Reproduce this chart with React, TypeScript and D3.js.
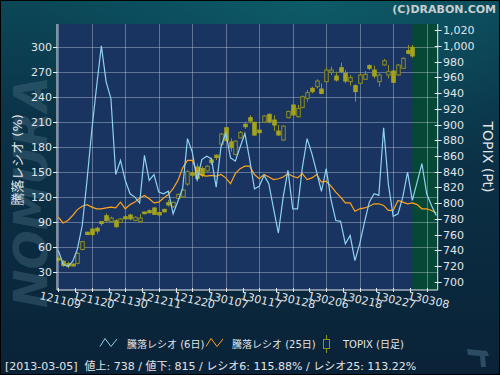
import React from "react";
import * as d3 from "d3";

const dateLabels = ["121109","121120","121130","121211","121220","130107","130117","130128","130206","130218","130227","130308"];

const ratio6 = [56,40,37,43,58,86,140,200,252,301,258,238,147,164,140,124,120,113,170,140,147,126,124,127,100,115,131,190,174,140,165,169,166,132,180,197,167,163,180,196,165,130,133,146,136,106,77,120,152,106,106,155,190,172,150,127,154,117,92,91,64,74,44,64,90,114,124,122,203,135,97,100,120,150,116,138,160,124,110,98];

const ratio25 = [96,89,92,98,105,109,111,108,106,106,107,108,107,114,106,111,114,119,122,118,113,114,119,123,130,140,155,164,164,150,146,145,146,145,147,143,136,148,154,157,157,147,142,147,144,141,142,144,148,145,143,148,141,143,147,138,139,133,126,120,113,113,103,106,107,109,112,112,110,104,104,116,114,112,113,111,106,106,104,101];

const topixOpen = [730,726,723,722.5,723.3,741,763,767,768,776.5,784,776.4,777.6,775.5,782.7,784.8,778,776.4,788.7,790.4,793.8,788,792,800.6,795.5,806,808,824.3,838.5,846,844,841,855,861,875,896,878,862,883,900.3,908.8,902.8,893,903,913,905.8,891.8,880.3,908.8,924.9,910,921.9,933.4,946.1,948.2,945.3,954.6,966.5,961.8,972.4,965.2,954.6,949.5,952.5,957.6,975,969.4,954.6,975.8,963.1,968.2,963.1,971.6,994.1,998.3];
const topixHigh = [732,727.5,725,723,738,752,763.5,769,770,777,787,782.7,779.7,781,785.7,786.5,783,786,789,792,795,789,793,804,802,812,818,842,841,850.6,847,848,858,862,889,897,882.5,880,891.8,903.7,912,903.7,899.4,912,914.3,912,899.4,899,917.6,926,924.9,937,944,948.2,957.6,952.5,972.8,973.7,967.3,978.8,969.4,963.1,951.2,965.2,968.2,976.7,975,965.2,983.4,975.8,969,976.7,985.6,1001.3,1001.3];
const topixLow = [725,719,717,719.5,722,740,759.5,758,761,771,776.5,775.5,769,775,777.2,778,777,775,786,787,785,782,788,795.5,794,805,807,822,833,827.3,833,840,848.5,855,874,878,865.5,861,882.5,894.3,901.5,885.4,877.4,902,901.5,891.8,885.8,879,908,911,909,920.6,929.1,939.7,946,938.5,953.7,963.1,954.6,965.2,952.5,949.5,929.1,951.6,956.7,969.4,958.8,948.2,975,958.8,953,962,970.7,989.4,985.1];
const topixClose = [727.5,720.5,720,720,736,751,760,760,764.5,774,777.6,781,770,779.8,780,780,782,781,786.5,787.8,785.7,785,789,797.6,801,811.2,816.7,840,835.5,831.5,836,847,851.5,858,888,879.5,870.6,879,890,897.3,904.5,886.7,889.7,911,903.7,899.4,886.7,898.1,916.8,912.2,920.6,935.5,940.6,941.9,955.4,939.7,969.4,969.4,956.7,967.3,955.4,959.7,941.9,963.1,963.9,971.6,961.8,963.1,981.3,967.3,953.7,975.8,984.3,990.7,987.3];

const leftTicks = [30,60,90,120,150,180,210,240,270,300];
const rightTicks = [700,720,740,760,780,800,820,840,860,880,900,920,940,960,980,1000,1020];

const legendLabels = ["騰落レシオ (6日)", "騰落レシオ (25日)", "TOPIX (日足)"];
const statusText = "[2013-03-05]  値上: 738 / 値下: 815 / レシオ6: 115.88% / レシオ25: 113.22%";
const copyright = "(C)DRABON.COM";
const leftTitle = "騰落レシオ (%)";
const rightTitle = "TOPIX (Pt)";
const lastIndex = 74;

const FONT = "'DejaVu Sans', 'Noto Sans CJK JP', sans-serif";
const PL = 57, PR = 437.7, PT = 24, PB = 290;

export default function App() {
  const x = d3.scaleLinear().domain([0, 77]).range([58.3, 426.7]);
  const yL = d3.scaleLinear().domain([30, 300]).range([272.3, 46.7]);
  const yR = d3.scaleLinear().domain([700, 1000]).range([281.7, 46]);
  const fmt = d3.format(",");

  const line6 = d3.line<number>().x((_, i) => x(i)).y((d) => yL(d))(ratio6) || "";
  const line25 = d3.line<number>().x((_, i) => x(i)).y((d) => yL(d))(ratio25) || "";

  const olive = "#a3a31f";
  const oliveStroke = "#8f8f1e";
  const plotBg = "#1a3461";
  const gridCol = "rgba(210,220,235,0.38)";
  const txt = "#e2e4e8";

  const majorIdx = dateLabels.map((_, k) => k * 7);
  const minorIdx = d3.range(0, 78, 3.5);

  return (
    <svg width={500} height={375} style={{ position: "absolute", left: 0, top: 0, display: "block" }} fontFamily={FONT}>
      <defs>
        <linearGradient id="bg" x1="0" y1="0" x2="0" y2="1">
          <stop offset="0" stopColor="#0b4858" />
          <stop offset="0.3" stopColor="#0b3449" />
          <stop offset="1" stopColor="#0a2237" />
        </linearGradient>
        <radialGradient id="glow" cx="0.62" cy="0" r="0.55">
          <stop offset="0" stopColor="#0f6a75" stopOpacity="0.55" />
          <stop offset="1" stopColor="#0f6a75" stopOpacity="0" />
        </radialGradient>
        <clipPath id="plotClip">
          <rect x={PL} y={PT} width={PR - PL} height={PB - PT} />
        </clipPath>
      </defs>
      <rect x={0} y={0} width={500} height={375} fill="url(#bg)" />
      <rect x={0} y={0} width={500} height={375} fill="url(#glow)" />
      <rect x={0.5} y={0.5} width={499} height={374} fill="none" stroke="#000" />

      {/* watermark */}
      <text transform="translate(47,192) rotate(-90)" textAnchor="middle" fontSize={46} fontWeight="bold" fontStyle="italic" fill="#4a6f84" opacity={0.4}>NOMURA</text>

      {/* plot background */}
      <rect x={PL} y={PT} width={PR - PL} height={PB - PT} fill={plotBg} />
      <rect x={x(lastIndex)} y={PT} width={PR - x(lastIndex)} height={PB - PT} fill="#064836" />

      {/* grid */}
      {leftTicks.map((t) => (
        <line key={"h" + t} x1={PL} x2={PR} y1={Math.round(yL(t)) + 0.5} y2={Math.round(yL(t)) + 0.5} stroke={gridCol} />
      ))}
      {majorIdx.map((i) => (
        <line key={"v" + i} x1={Math.round(x(i)) + 0.5} x2={Math.round(x(i)) + 0.5} y1={PT} y2={PB} stroke={gridCol} />
      ))}

      <g clipPath="url(#plotClip)">
        {/* candles */}
        {topixOpen.map((o, i) => {
          const c = topixClose[i];
          const h = topixHigh[i];
          const l = topixLow[i];
          const cx = Math.round(x(i)) + 0.5;
          const top = yR(Math.max(o, c));
          const bot = yR(Math.min(o, c));
          const up = c >= o;
          return (
            <g key={"c" + i}>
              <line x1={cx} x2={cx} y1={yR(h)} y2={yR(l)} stroke={oliveStroke} />
              <rect x={cx - 1.75} y={top} width={3.5} height={Math.max(bot - top, 1.5)} fill={up ? plotBg : olive} stroke={up ? oliveStroke : olive} strokeWidth={1} />
            </g>
          );
        })}
        <path d={line25} fill="none" stroke="#ffa31a" strokeWidth={1.2} />
        <path d={line6} fill="none" stroke="#8fd2f2" strokeWidth={1.2} />
      </g>

      {/* axes */}
      <line x1={PL} x2={PL} y1={PT} y2={PB} stroke="#e8ecf0" />
      <line x1={PL} x2={PR} y1={PB} y2={PB} stroke="#e8ecf0" />
      <line x1={PR} x2={PR} y1={PT} y2={PB} stroke="#e8ecf0" />

      {leftTicks.map((t) => (
        <g key={"lt" + t}>
          <line x1={PL - 4} x2={PL} y1={Math.round(yL(t)) + 0.5} y2={Math.round(yL(t)) + 0.5} stroke="#e8ecf0" />
          <text x={52} y={yL(t)} dy="0.36em" textAnchor="end" fontSize={11} fill={txt}>{t}</text>
        </g>
      ))}
      {rightTicks.map((t) => (
        <g key={"rt" + t}>
          <line x1={PR - 3} x2={PR + 4} y1={Math.round(yR(t)) + 0.5} y2={Math.round(yR(t)) + 0.5} stroke="#e8ecf0" />
          <text x={443} y={yR(t)} dy="0.36em" textAnchor="start" fontSize={11} fill={txt}>{fmt(t)}</text>
        </g>
      ))}
      {minorIdx.map((i) => (
        <line key={"mt" + i} x1={Math.round(x(i)) + 0.5} x2={Math.round(x(i)) + 0.5} y1={PB - 2} y2={PB + 2} stroke="#e8ecf0" />
      ))}
      {dateLabels.map((d, k) => (
        <text key={d} transform={`translate(${x(k * 7) + 2},${300}) rotate(13)`} textAnchor="middle" dy="0.35em" fontSize={11} fill={txt}>{d}</text>
      ))}

      {/* titles */}
      <text transform="translate(17,160) rotate(-90)" textAnchor="middle" dy="0.35em" fontSize={13} fill={txt}>{leftTitle}</text>
      <text transform="translate(488,157) rotate(90)" textAnchor="middle" dy="0.35em" fontSize={14} fill={txt}>{rightTitle}</text>
      <text x={496} y={13} textAnchor="end" fontSize={11} fontWeight="bold" fill="#c9cdd0">{copyright}</text>

      {/* legend */}
      <polyline points="100,346.5 105,338.5 111,346.5 117,339" fill="none" stroke="#8fd2f2" strokeWidth={1} />
      <text x={127} y={344} dy="0.35em" fontSize={10} fill={txt}>{legendLabels[0]}</text>
      <polyline points="206,346.5 211,338.5 217,346.5 223,339" fill="none" stroke="#ffa31a" strokeWidth={1} />
      <text x={232} y={344} dy="0.35em" fontSize={10} fill={txt}>{legendLabels[1]}</text>
      <line x1={326.5} x2={326.5} y1={335} y2={353} stroke={oliveStroke} />
      <rect x={323.5} y={339.5} width={6} height={9} fill="#0b2a3f" stroke={oliveStroke} />
      <text x={343} y={344} dy="0.35em" fontSize={10} fill={txt}>{legendLabels[2]}</text>

      {/* status */}
      <text x={5} y={370} fontSize={11} fill={txt} style={{ whiteSpace: "pre" }}>{statusText}</text>

      {/* corner icon */}
      <path d="M467,349 L487,351 L489,356 L485,356 L486,367 L481,367 L480,356 L468,355 Z" fill="#2c4c63" />
    </svg>
  );
}
